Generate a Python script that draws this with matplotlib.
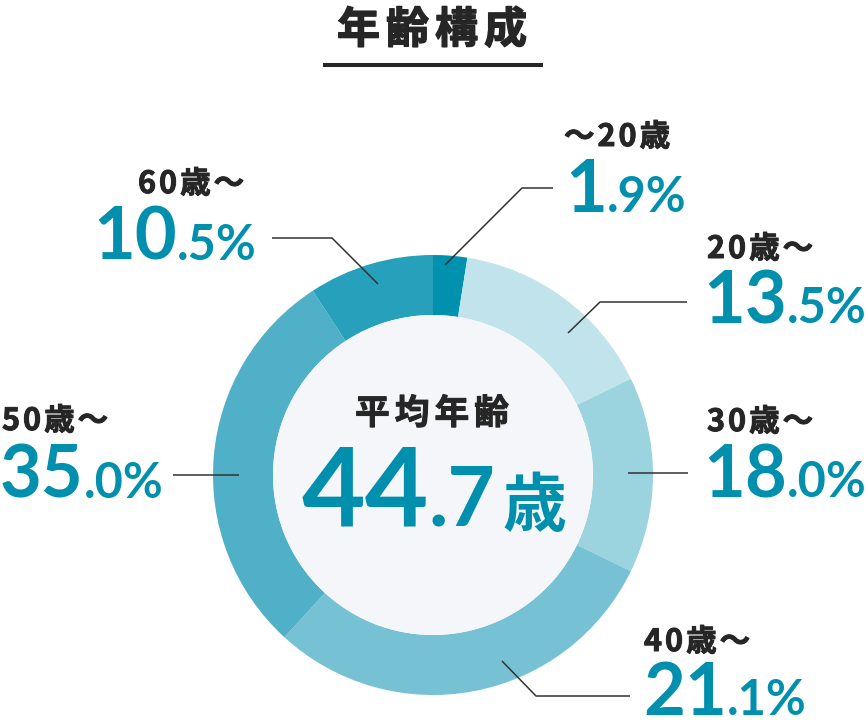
import matplotlib
matplotlib.use('Agg')
import matplotlib.pyplot as plt
import matplotlib.patheffects as pe
from matplotlib.patches import Circle

# data
groups = ['〜20歳', '20歳〜', '30歳〜', '40歳〜', '50歳〜', '60歳〜']
shares = [1.9, 13.5, 18.0, 21.1, 35.0, 10.5]
# the ring in the original is not drawn to scale with the printed numbers,
# so the arc sizes are read separately from the picture
arc_shares = [2.5, 15.3, 14.4, 29.6, 29.0, 9.2]
avg_age = 44.7

colors = ['#0091ae', '#c1e4ec', '#9bd3df', '#76c2d4', '#4fb0c7', '#27a0bb']
TEXT = '#262626'
BLUE = '#0090ae'
JP = ['Noto Sans CJK JP', 'DejaVu Sans']
NUM = ['Lato', 'Noto Sans CJK JP', 'DejaVu Sans']

# label placement in pixels: (label x, label baseline, pct x, pct baseline, leader)
layout = [
    (564, 146, 565, 212, [(445, 265), (522, 188), (553, 188)]),
    (707, 258, 703, 323, [(568, 333), (600, 302), (687, 302)]),
    (707, 431, 703, 497, [(628, 473), (688, 473)]),
    (644, 651, 643, 715, [(502, 661), (536, 696), (630, 696)]),
    (2, 430, 0, 498, [(173, 475), (239, 475)]),
    (138, 193, 93, 260, [(378, 284), (332, 238), (272, 238)]),
]

cx, cy, r_out, r_in = 433, 475, 220, 160

fig = plt.figure(figsize=(8.66, 7.2), dpi=100)
ax = fig.add_axes([0, 0, 1, 1])
renderer = fig.canvas.get_renderer()

# ring; y axis is flipped later so data angles run clockwise on screen
ax.pie(arc_shares, colors=colors, startangle=-90, counterclock=True,
       center=(cx, cy), radius=r_out,
       wedgeprops=dict(width=r_out - r_in, linewidth=0, antialiased=True))
ax.add_patch(Circle((cx, cy), r_in, facecolor='#f4f6fa', edgecolor='none', zorder=3))

ax.set_xlim(0, 866)
ax.set_ylim(720, 0)
ax.set_aspect('auto')
ax.axis('off')


def run(x, y, parts, ha='left', stroke=0):
    # parts: (text, size, color, family, letter spacing px)
    items = []
    for s, size, color, fam, sp in parts:
        chunks = list(s) if sp else [s]
        for ch in chunks:
            t = ax.text(0, y, ch, fontsize=size, color=color, family=fam,
                        weight='bold', va='baseline', ha='left', zorder=5)
            if stroke:
                # the original uses a heavier weight than Noto's Bold
                t.set_path_effects([pe.withStroke(linewidth=stroke, foreground=color)])
            w = t.get_window_extent(renderer).width
            items.append((t, w, sp))
    total = sum(w + sp for t, w, sp in items) - items[-1][2]
    if ha == 'center':
        x -= total / 2
    for t, w, sp in items:
        t.set_x(x)
        x += w + sp


# title
run(432, 43, [('年齢構成', 31, TEXT, JP, 6)], ha='center', stroke=1.0)
ax.plot([323, 543], [65, 65], color=TEXT, lw=2.9, solid_capstyle='butt')

# centre
run(432, 424, [('平均年齢', 25, TEXT, JP, 5)], ha='center', stroke=0.7)
a_int, a_dec = f'{avg_age:.1f}'.split('.')
run(434, 526, [(a_int, 79, BLUE, NUM, 0), ('.' + a_dec, 59, BLUE, NUM, 0),
               (' ', 20, BLUE, NUM, 0), ('歳', 46, BLUE, JP, 0)], ha='center')

# labels and leader lines
for name, v, (lx, ly, px, py, pts) in zip(groups, shares, layout):
    run(lx, ly, [(name, 22, TEXT, JP, 3)], stroke=0.7)
    i_part, d_part = f'{v:.1f}'.split('.')
    run(px, py, [(i_part, 52, BLUE, NUM, 0), ('.' + d_part + '%', 35, BLUE, NUM, 0)])
    xs, ys = zip(*pts)
    ax.plot(xs, ys, color='#333333', lw=1.1, zorder=6, solid_capstyle='butt')

fig.savefig('out.png', dpi=100, facecolor='white')
